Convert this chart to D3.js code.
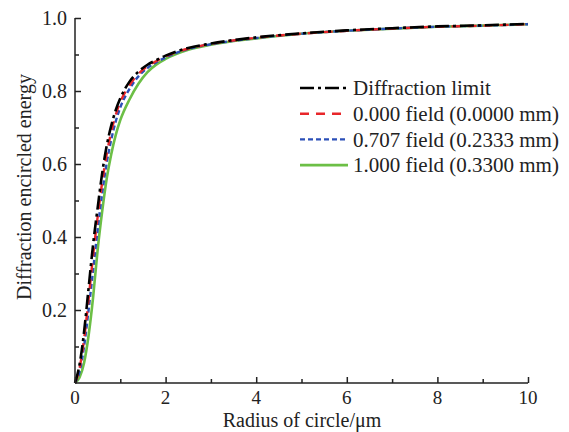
<!DOCTYPE html>
<html>
<head>
<meta charset="utf-8">
<script src="https://cdn.jsdelivr.net/npm/d3@7"></script>
<style>
  body { margin: 0; background: #fff; }
  text { font-family: "Liberation Serif", "Times New Roman", serif; fill: #222; }
</style>
</head>
<body>
<div id="chart"></div>
<script>
// radius grid (um) shared by all curves
const radius = [0, 0.1, 0.2, 0.3, 0.4, 0.5, 0.6, 0.7, 0.8, 0.9, 1.0, 1.2, 1.4, 1.6, 1.8, 2.0, 2.5, 3, 4, 5, 6, 7, 8, 9, 10];

const diffLimit = [0, 0.05, 0.14, 0.26, 0.38, 0.48, 0.575, 0.65, 0.705, 0.748, 0.78, 0.825, 0.853, 0.872, 0.885, 0.897, 0.918, 0.93, 0.947, 0.958, 0.966, 0.972, 0.977, 0.980, 0.984];
const field000 = [0, 0.04, 0.12, 0.23, 0.35, 0.455, 0.55, 0.627, 0.688, 0.735, 0.77, 0.815, 0.847, 0.868, 0.882, 0.895, 0.916, 0.929, 0.946, 0.957, 0.965, 0.971, 0.976, 0.979, 0.983];
const field0707 = [0, 0.03, 0.10, 0.20, 0.31, 0.42, 0.52, 0.603, 0.667, 0.717, 0.755, 0.805, 0.84, 0.863, 0.879, 0.892, 0.915, 0.928, 0.945, 0.957, 0.965, 0.971, 0.976, 0.979, 0.983];
const field100 = [0, 0.015, 0.055, 0.13, 0.235, 0.365, 0.47, 0.56, 0.627, 0.68, 0.72, 0.776, 0.82, 0.852, 0.873, 0.888, 0.913, 0.927, 0.944, 0.957, 0.965, 0.971, 0.976, 0.979, 0.983];

const seriesNames = ["Diffraction limit", "0.000 field (0.0000 mm)", "0.707 field (0.2333 mm)", "1.000 field (0.3300 mm)"];
const xTicks = [0, 2, 4, 6, 8, 10];
const yTicks = [0.2, 0.4, 0.6, 0.8, 1.0];

var width = 569, height = 432;
var margin = {top: 18, right: 41, bottom: 49, left: 75};

var series = [
  {name: seriesNames[0], values: diffLimit, color: "#000000", dash: "14,4,3,4", w: 2.6},
  {name: seriesNames[1], values: field000, color: "#e8262a", dash: "9,7", w: 2.4},
  {name: seriesNames[2], values: field0707, color: "#2b4fb8", dash: "5,3", w: 2.4},
  {name: seriesNames[3], values: field100, color: "#6cbf46", dash: null, w: 2.6}
];

var svg = d3.select("#chart").append("svg")
  .attr("width", width)
  .attr("height", height);

var x = d3.scaleLinear().domain([0, 10]).range([margin.left, width - margin.right]);
var y = d3.scaleLinear().domain([0, 1]).range([height - margin.bottom, margin.top]);

// curves (drawn in reverse so the black one ends up on top)
var line = d3.line()
  .x(function(d) { return x(d[0]); })
  .y(function(d) { return y(d[1]); })
  .curve(d3.curveMonotoneX);

svg.append("g").selectAll("path")
  .data(series.slice().reverse())
  .enter().append("path")
  .attr("fill", "none")
  .attr("stroke", d => d.color)
  .attr("stroke-width", d => d.w)
  .attr("stroke-dasharray", d => d.dash)
  .attr("d", d => line(radius.map((r, i) => [r, d.values[i]])));

// axes, ticks point inward
var xAxis = svg.append("g")
  .attr("transform", "translate(0," + y(0) + ")")
  .call(d3.axisTop(x).tickValues(d3.range(0, 10.01, 1)).tickSize(4).tickFormat(""));
xAxis.selectAll(".tick line").filter(d => d % 2 === 0).attr("y2", -6);
xAxis.selectAll("path, line").attr("stroke", "#222").attr("stroke-width", 1.5);
xAxis.select(".domain").attr("d", "M" + x(0) + ",0H" + x(10));

var yAxis = svg.append("g")
  .attr("transform", "translate(" + x(0) + ",0)")
  .call(d3.axisRight(y).tickValues(d3.range(0.1, 1.001, 0.1)).tickSize(4).tickFormat(""));
yAxis.selectAll(".tick line").filter(d => Math.round(d * 10) % 2 === 0).attr("x2", 6);
yAxis.selectAll("path, line").attr("stroke", "#222").attr("stroke-width", 1.5);
yAxis.select(".domain").attr("d", "M0," + y(0) + "V" + y(1));

svg.append("g").selectAll("text")
  .data(xTicks)
  .enter().append("text")
  .attr("x", d => x(d))
  .attr("y", y(0) + 21)
  .attr("text-anchor", "middle")
  .style("font-size", "19px")
  .text(d => d);

svg.append("g").selectAll("text")
  .data(yTicks)
  .enter().append("text")
  .attr("x", x(0) - 8)
  .attr("y", d => y(d))
  .attr("dy", "0.35em")
  .attr("text-anchor", "end")
  .style("font-size", "20px")
  .text(d => d.toFixed(1));

svg.append("text")
  .attr("x", 302)
  .attr("y", 427)
  .attr("text-anchor", "middle")
  .style("font-size", "20px")
  .text("Radius of circle/\u03bcm");

svg.append("text")
  .attr("transform", "translate(31,187) rotate(-90)")
  .attr("text-anchor", "middle")
  .style("font-size", "20px")
  .text("Diffraction encircled energy");

// legend
var legend = svg.append("g").attr("transform", "translate(300,88)")
  .selectAll(".legends").data(series)
  .enter().append("g").classed("legends", true)
  .attr("transform", function(d, i) { return "translate(0," + i * 25.7 + ")"; });
legend.append("line")
  .attr("x1", 0).attr("x2", 48)
  .attr("stroke", d => d.color)
  .attr("stroke-width", d => d.w)
  .attr("stroke-dasharray", d => d.dash);
legend.append("text")
  .attr("x", 53)
  .attr("dy", "0.35em")
  .style("font-size", "21px")
  .text(d => d.name);
</script>
</body>
</html>
